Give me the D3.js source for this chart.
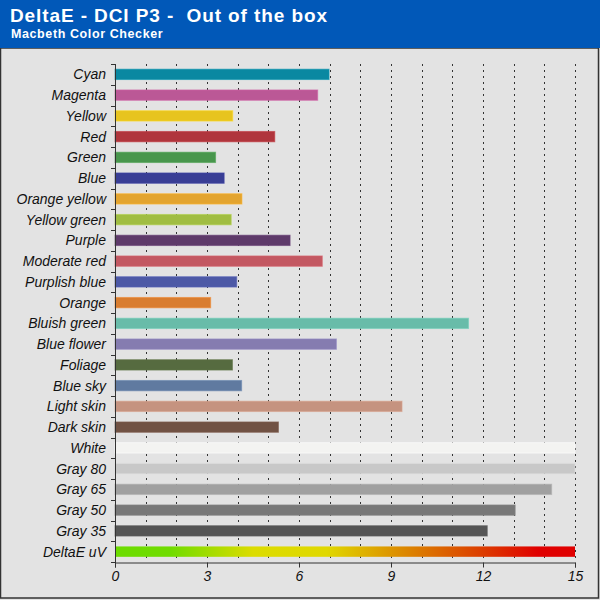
<!DOCTYPE html>
<html><head><meta charset="utf-8">
<script src="https://cdn.jsdelivr.net/npm/d3@7"></script>
<style>
html,body{margin:0;padding:0;background:#fff;}
svg{display:block;font-family:Arial,"Liberation Sans",sans-serif;}
</style></head>
<body>
<svg id="chart" width="600" height="600"></svg>
<script>
const categories = ["Cyan","Magenta","Yellow","Red","Green","Blue","Orange yellow","Yellow green","Purple","Moderate red","Purplish blue","Orange","Bluish green","Blue flower","Foliage","Blue sky","Light skin","Dark skin","White","Gray 80","Gray 65","Gray 50","Gray 35","DeltaE uV"];
const values = [6.98,6.61,3.84,5.21,3.28,3.56,4.14,3.79,5.71,6.76,3.97,3.12,11.53,7.22,3.83,4.13,9.36,5.33,15,15,14.24,13.05,12.14,15];
const colors = ["#0a88a1","#bb5896","#e7c41f","#b0353c","#48964c","#393e95","#e3a42f","#a0bd42","#5e3a6a","#c35862","#4d59a6","#d97d2f","#68bca9","#857cb0","#566b40","#607aa0","#c59380","#715244","#f3f3f1","#c8c8c8","#a0a0a0","#787878","#555555","url(#deltaGrad)"];
const xTicks = [0,3,6,9,12,15];
const title = "DeltaE - DCI P3 -  Out of the box";
const subtitle = "Macbeth Color Checker";

const svg = d3.select("#chart");
const W = 600, H = 600;
const margin = {left:115, right:25, top:64, bottom:38};

// background panel
svg.append("rect").attr("x",0).attr("y",0).attr("width",W).attr("height",H).attr("fill","#e3e3e3");
svg.append("rect").attr("x",0.5).attr("y",48).attr("width",598).attr("height",550)
  .attr("fill","none").attr("stroke","#333").attr("stroke-width",1.5);
// header
svg.append("rect").attr("x",0).attr("y",0).attr("width",W).attr("height",48).attr("fill","#0158b8");
svg.append("text").attr("x",10).attr("y",22).attr("fill","#fff")
  .attr("font-size",19).attr("font-weight","bold").attr("letter-spacing",0.9)
  .attr("xml:space","preserve").style("white-space","pre").text(title);
svg.append("text").attr("x",11).attr("y",38).attr("fill","#fff")
  .attr("font-size",12.5).attr("font-weight","bold").attr("letter-spacing",0.6).text(subtitle);

const defs = svg.append("defs");
const grad = defs.append("linearGradient").attr("id","deltaGrad")
  .attr("gradientUnits","userSpaceOnUse").attr("x1",115).attr("x2",575).attr("y1",0).attr("y2",0);
[[0,"#6cdc00"],[0.12,"#70dc00"],[0.3,"#dcdc00"],[0.46,"#e0d800"],[0.62,"#dc8c00"],[0.8,"#dc3c00"],[0.92,"#e00000"],[1,"#e00000"]]
  .forEach(([o,c])=>grad.append("stop").attr("offset",o).attr("stop-color",c));

const x = d3.scaleLinear().domain([0,15]).range([margin.left, W - margin.right]);
const y = d3.scaleBand().domain(categories).range([margin.top, H - margin.bottom]).paddingInner(0.5).paddingOuter(0.25);
const yOuter = d3.scaleBand().domain(categories).range([margin.top, H - margin.bottom]);

// dotted grid lines
svg.append("g").selectAll("line").data(d3.range(1,16)).join("line")
  .attr("x1",d=>Math.round(x(d))+0.5).attr("x2",d=>Math.round(x(d))+0.5)
  .attr("y1",margin.top).attr("y2",H-margin.bottom)
  .attr("stroke","#333").attr("stroke-width",1).attr("stroke-dasharray","2,4");

// bars
svg.append("g").selectAll("rect").data(categories).join("rect")
  .attr("x",x(0)).attr("y",d=>y(d))
  .attr("width",(d,i)=>x(values[i])-x(0)).attr("height",y.bandwidth())
  .attr("fill",(d,i)=>colors[i])
  .attr("stroke",(d,i)=> i===23 ? "none" : d3.color(colors[i]).brighter(0.3).formatHex())
  .attr("stroke-opacity",0.6).attr("stroke-width",1);

// y axis
const yAxisG = svg.append("g");
yAxisG.append("line").attr("x1",x(0)+0.5).attr("x2",x(0)+0.5).attr("y1",margin.top).attr("y2",H-margin.bottom).attr("stroke","#333");
const bounds = categories.map(c=>yOuter(c)).concat([H-margin.bottom]);
yAxisG.selectAll("line.tk").data(bounds).join("line").attr("class","tk")
  .attr("x1",x(0)-4).attr("x2",x(0)+1).attr("y1",d=>Math.round(d)+0.5).attr("y2",d=>Math.round(d)+0.5).attr("stroke","#333");
yAxisG.selectAll("text").data(categories).join("text")
  .attr("x",x(0)-9).attr("y",d=>yOuter(d)+yOuter.bandwidth()/2+5)
  .attr("text-anchor","end").attr("font-size",14).attr("font-style","italic").attr("fill","#111").text(d=>d);

// x axis
const xAxis = d3.axisBottom(x).tickValues(xTicks).tickSize(5).tickPadding(4);
const xg = svg.append("g").attr("transform",`translate(0,${H-margin.bottom+0.5})`).call(xAxis);
xg.select(".domain").attr("stroke","#333");
xg.selectAll(".tick line").attr("stroke","#333");
xg.selectAll(".tick text").attr("font-size",14).attr("font-style","italic").attr("fill","#111").attr("font-family","Arial, 'Liberation Sans', sans-serif");
</script>
</body></html>
